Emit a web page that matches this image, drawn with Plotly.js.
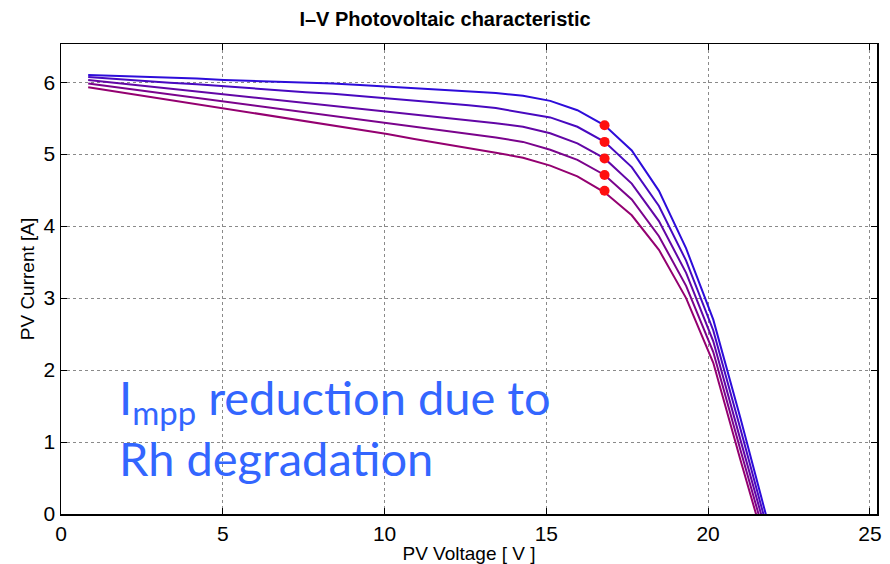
<!DOCTYPE html>
<html>
<head>
<meta charset="utf-8">
<script src="https://cdn.plot.ly/plotly-3.0.1.min.js"></script>
<style>html,body{margin:0;padding:0;background:#fff;}#chart{width:890px;height:564px;}</style>
</head>
<body>
<div id="chart"></div>
<script>
// PV voltage samples [V]
const voltage = [0.84,1.68,2.52,3.36,4.20,5.04,5.88,6.72,7.56,8.40,9.24,10.08,10.92,11.76,12.60,13.44,14.28,15.12,15.96,16.80,17.64,18.48,19.32,20.16,21.00,21.84];
// PV current [A] for 5 levels of Rh degradation
const current1 = [6.10,6.09,6.08,6.06,6.05,6.03,6.02,6.01,5.99,5.98,5.96,5.94,5.92,5.90,5.88,5.85,5.81,5.74,5.61,5.40,5.05,4.49,3.69,2.70,1.33,-0.10];
const current2 = [6.07,6.04,6.02,5.99,5.97,5.94,5.91,5.89,5.86,5.84,5.81,5.78,5.75,5.71,5.68,5.64,5.58,5.51,5.38,5.17,4.82,4.28,3.52,2.55,1.18,-0.22];
const current3 = [6.03,5.99,5.95,5.91,5.88,5.84,5.80,5.76,5.72,5.68,5.64,5.60,5.56,5.52,5.48,5.43,5.38,5.29,5.15,4.94,4.59,4.07,3.35,2.40,1.03,-0.33];
const current4 = [5.98,5.93,5.88,5.83,5.79,5.74,5.69,5.64,5.59,5.54,5.49,5.44,5.39,5.33,5.28,5.23,5.17,5.06,4.92,4.71,4.37,3.86,3.17,2.25,0.89,-0.45];
const current5 = [5.93,5.87,5.81,5.76,5.70,5.64,5.58,5.52,5.46,5.40,5.34,5.28,5.21,5.15,5.08,5.02,4.95,4.84,4.69,4.47,4.15,3.67,3.00,2.10,0.75,-0.56];
// maximum power points
const mppVoltage = [16.8,16.8,16.8,16.8,16.8];
const mppCurrent = [5.40,5.17,4.94,4.71,4.49];

const xTicks = [0,5,10,15,20,25];
const yTicks = [0,1,2,3,4,5,6];

const series = [current1,current2,current3,current4,current5];
const colors = ['rgb(45,12,218)','rgb(72,9,192)','rgb(98,6,166)','rgb(122,3,140)','rgb(148,0,112)'];

const traces = series.map((c,i)=>({
  x: voltage, y: c, type:'scatter', mode:'lines',
  line:{color:colors[i], width:2}, hoverinfo:'skip', showlegend:false
}));
traces.push({
  x: mppVoltage, y: mppCurrent, type:'scatter', mode:'markers',
  marker:{color:'#ff1010', size:10, symbol:'circle'}, showlegend:false
});

const tickFont = {family:'Liberation Sans, Arial, sans-serif', size:21, color:'#000'};
const layout = {
  width:890, height:564,
  margin:{l:61, r:13, t:44, b:50},
  paper_bgcolor:'#fff', plot_bgcolor:'#fff',
  title:{text:'<b>I–V Photovoltaic characteristic</b>', x:0.5, xanchor:'center', y:0.978, yanchor:'top',
         font:{family:'Liberation Sans, Arial, sans-serif', size:20, color:'#000'}},
  xaxis:{range:[0,25.22], tickvals:xTicks, ticktext:xTicks.map(String),
         showgrid:true, gridcolor:'#8a8a8a', griddash:'dot', gridwidth:1,
         showline:true, linecolor:'#000', linewidth:1.5, mirror:'ticks',
         ticks:'inside', ticklen:6, tickcolor:'#000', tickfont:tickFont, zeroline:false,
         title:{text:'PV Voltage [ V ]', font:{family:'Liberation Sans, Arial, sans-serif', size:19, color:'#000'}, standoff:0}},
  yaxis:{range:[0,6.53], tickvals:yTicks, ticktext:yTicks.map(String),
         showgrid:true, gridcolor:'#8a8a8a', griddash:'dot', gridwidth:1,
         showline:true, linecolor:'#000', linewidth:1.5, mirror:'ticks',
         ticks:'inside', ticklen:6, tickcolor:'#000', tickfont:tickFont, zeroline:false,
         title:{text:'PV Current [A]', font:{family:'Liberation Sans, Arial, sans-serif', size:19, color:'#000'}, standoff:4}},
  annotations:[{
    xref:'paper', yref:'paper', x:0.069, y:0.313, xanchor:'left', yanchor:'top', align:'left',
    showarrow:false,
    text:'I<sub>mpp</sub> reduction due to<br>Rh degradation',
    font:{family:'Lato, Open Sans, sans-serif', size:47, color:'#3366ff'}
  }]
};
Plotly.newPlot('chart', traces, layout, {displayModeBar:false, staticPlot:true});
</script>
</body>
</html>
